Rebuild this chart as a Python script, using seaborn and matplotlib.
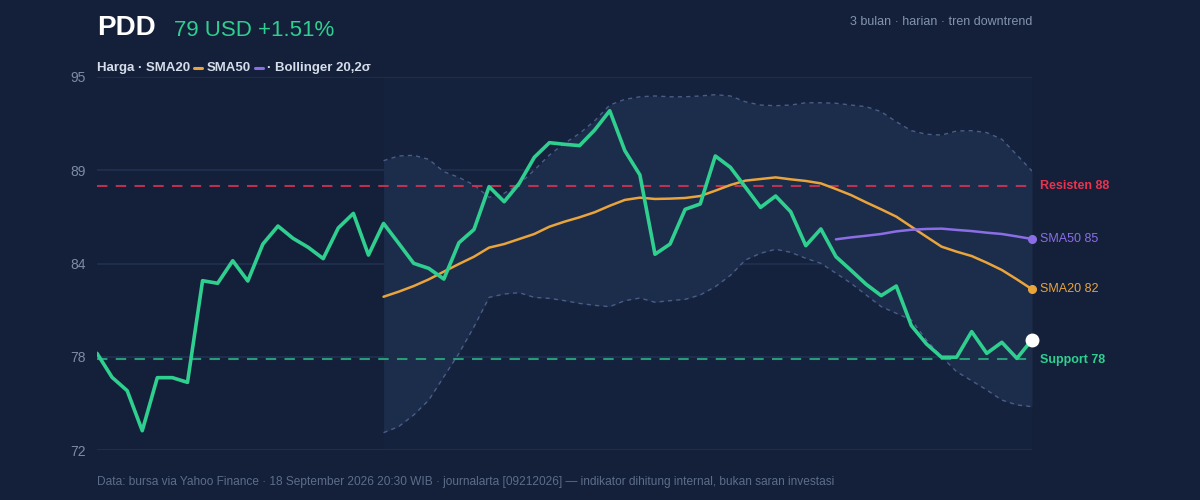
"""
PDD harga harian 3 bulan dengan SMA20, SMA50, Bollinger dan level support/resisten.
"""

import matplotlib.pyplot as plt
import numpy as np
import pandas as pd
import seaborn as sns


# harga penutupan harian (63 hari)
harga = [
    77.96, 76.48, 75.66, 73.19, 76.46, 76.46, 76.17, 82.44, 82.28, 83.67,
    82.42, 84.70, 85.81, 85.05, 84.50, 83.80, 85.69, 86.59, 84.02, 85.97,
    84.75, 83.51, 83.20, 82.54, 84.78, 85.60, 88.24, 87.31, 88.44, 90.05,
    90.95, 90.85, 90.77, 91.73, 92.92, 90.46, 88.96, 84.07, 84.70, 86.84,
    87.17, 90.13, 89.43, 88.20, 86.96, 87.66, 86.69, 84.60, 85.63, 83.92,
    83.08, 82.22, 81.52, 82.11, 79.67, 78.54, 77.72, 77.72, 79.30, 77.96,
    78.64, 77.65, 78.80,
]

# SMA20 mulai hari ke-20
sma20 = [
    81.45, 81.76, 82.11, 82.52, 83.00, 83.47, 83.92, 84.48, 84.70, 85.01,
    85.32, 85.77, 86.08, 86.35, 86.66, 87.06, 87.42, 87.56, 87.48, 87.50,
    87.54, 87.66, 87.99, 88.34, 88.61, 88.71, 88.81, 88.69, 88.59, 88.44,
    88.09, 87.72, 87.27, 86.84, 86.39, 85.77, 85.15, 84.54, 84.23, 83.96,
    83.55, 83.10, 82.52, 81.91,
]

# SMA50 mulai hari ke-50
sma50 = [
    84.99, 85.11, 85.21, 85.32, 85.48, 85.58, 85.63, 85.65, 85.57, 85.50,
    85.40, 85.32, 85.17, 85.01,
]

# Bollinger 20, 2 sigma
bb_atas = [
    89.84, 90.13, 90.17, 89.92, 89.16, 88.81, 88.34, 87.58, 87.83, 88.40,
    89.26, 90.19, 90.91, 91.52, 92.30, 93.27, 93.62, 93.78, 93.83, 93.78,
    93.78, 93.83, 93.91, 93.83, 93.47, 93.27, 93.23, 93.27, 93.41, 93.41,
    93.38, 93.27, 93.17, 92.86, 92.24, 91.69, 91.47, 91.42, 91.67, 91.69,
    91.57, 91.16, 90.19, 89.20,
]
bb_bawah = [
    73.07, 73.44, 74.16, 75.08, 76.52, 77.96, 79.60, 81.41, 81.62, 81.70,
    81.41, 81.35, 81.21, 81.04, 80.92, 80.84, 81.21, 81.37, 81.11, 81.21,
    81.29, 81.56, 82.07, 82.77, 83.72, 84.13, 84.38, 84.19, 83.82, 83.51,
    82.90, 82.28, 81.56, 80.84, 80.43, 80.02, 78.78, 77.75, 76.83, 76.27,
    75.70, 75.08, 74.78, 74.67,
]

resisten = 88.3
support = 77.6
y_min, y_max = 72, 95

BG = "#14203a"
HIJAU = "#2fcf8f"
ORANYE = "#e9a43b"
UNGU = "#8b6ee6"
MERAH = "#d93452"
ABU = "#7d8ba3"


def main():
    sns.set_theme(style="dark")
    plt.rcParams["font.family"] = ["Liberation Sans", "DejaVu Sans"]

    n = len(harga)
    hari = np.arange(n)
    df = pd.DataFrame({"hari": hari, "harga": harga})
    df["sma20"] = [np.nan] * (n - len(sma20)) + sma20
    df["sma50"] = [np.nan] * (n - len(sma50)) + sma50
    df["bb_atas"] = [np.nan] * (n - len(bb_atas)) + bb_atas
    df["bb_bawah"] = [np.nan] * (n - len(bb_bawah)) + bb_bawah
    band = df.dropna(subset=["bb_atas"])

    fig = plt.figure(figsize=(12, 5), dpi=100, facecolor=BG)
    ax = fig.add_axes([97 / 1200, 50 / 500, 935 / 1200, 373 / 500])
    ax.set_facecolor(BG)

    # area periode bollinger
    ax.axvspan(band["hari"].iloc[0], band["hari"].iloc[-1], color="#1a2846", alpha=0.3, lw=0, zorder=0)
    ax.fill_between(band["hari"], band["bb_bawah"], band["bb_atas"], color="#1c2c4b", lw=0, zorder=1)
    ax.plot(band["hari"], band["bb_atas"], color="#4a5d88", lw=1.0, ls=(0, (3, 3)), zorder=2)
    ax.plot(band["hari"], band["bb_bawah"], color="#4a5d88", lw=1.0, ls=(0, (3, 3)), zorder=2)

    ax.axhline(resisten, color=MERAH, lw=1.5, ls=(0, (5, 4)), alpha=0.85, zorder=2)
    ax.axhline(support, color="#279c78", lw=1.5, ls=(0, (5, 4)), zorder=2)

    sns.lineplot(data=df, x="hari", y="sma20", ax=ax, color=ORANYE, lw=1.8, zorder=3)
    sns.lineplot(data=df, x="hari", y="sma50", ax=ax, color=UNGU, lw=1.8, zorder=3)
    sns.lineplot(data=df, x="hari", y="harga", ax=ax, color=HIJAU, lw=2.6, zorder=4)

    akhir = n - 1
    ax.plot(akhir, sma50[-1], "o", color=UNGU, ms=5.5, zorder=5, clip_on=False)
    ax.plot(akhir, sma20[-1], "o", color=ORANYE, ms=5.5, zorder=5, clip_on=False)
    ax.plot(akhir, harga[-1], "o", color="white", ms=9, zorder=6, clip_on=False)

    ax.set_xlim(0, akhir)
    ax.set_ylim(y_min, y_max)
    ticks = np.linspace(y_min, y_max, 5)
    ax.set_yticks(ticks)
    ax.set_yticklabels([f"{t:.0f}" for t in ticks])
    ax.set_xticks([])
    ax.tick_params(axis="y", colors=ABU, labelsize=10, length=0, pad=8)
    ax.grid(axis="y", color="#213050", lw=1.2)
    ax.grid(axis="x", visible=False)
    for s in ax.spines.values():
        s.set_visible(False)
    ax.set_xlabel("")
    ax.set_ylabel("")

    # label kanan
    kw = dict(xycoords="data", textcoords="offset pixels", va="center", fontsize=9, annotation_clip=False)
    ax.annotate(f"Resisten {resisten:.0f}", (akhir, resisten), xytext=(8, 0), color="#e8334f", fontweight="bold", **kw)
    ax.annotate(f"SMA50 {sma50[-1]:.0f}", (akhir, sma50[-1]), xytext=(8, 0), color=UNGU, **kw)
    ax.annotate(f"SMA20 {sma20[-1]:.0f}", (akhir, sma20[-1]), xytext=(8, 0), color=ORANYE, **kw)
    ax.annotate(f"Support {support:.0f}", (akhir, support), xytext=(8, -1), color=HIJAU, fontweight="bold", **kw)

    # judul
    fig.text(97 / 1200, 1 - 28 / 500, "PDD", color="white", fontsize=20, fontweight="bold", va="center")
    fig.text(174 / 1200, 1 - 31 / 500, f"{harga[-1]:.0f} USD +1.51%", color=HIJAU, fontsize=16, va="center")
    fig.text(1032 / 1200, 1 - 22 / 500, "3 bulan · harian · tren downtrend", color="#8494ae", fontsize=9, ha="right", va="center")

    # baris legenda
    y_leg = 1 - 68 / 500
    fig.text(97 / 1200, y_leg, "Harga · SMA20", color="#d5dcea", fontsize=9.5, fontweight="bold", va="center")
    fig.add_artist(plt.Line2D([194 / 1200, 202 / 1200], [y_leg, y_leg], color=ORANYE, lw=2.2))
    fig.text(207 / 1200, y_leg, "SMA50", color="#d5dcea", fontsize=9.5, fontweight="bold", va="center")
    fig.add_artist(plt.Line2D([255 / 1200, 263 / 1200], [y_leg, y_leg], color=UNGU, lw=2.2))
    fig.text(267 / 1200, y_leg, "· Bollinger 20,2σ", color="#d5dcea", fontsize=9.5, fontweight="bold", va="center")

    fig.text(
        97 / 1200,
        1 - 482 / 500,
        "Data: bursa via Yahoo Finance · 18 September 2026 20:30 WIB · journalarta [09212026] — indikator dihitung internal, bukan saran investasi",
        color="#5d6d89",
        fontsize=8.6,
        va="center",
    )

    fig.savefig("out.png", dpi=100, facecolor=BG)
    plt.close(fig)


if __name__ == "__main__":
    main()
